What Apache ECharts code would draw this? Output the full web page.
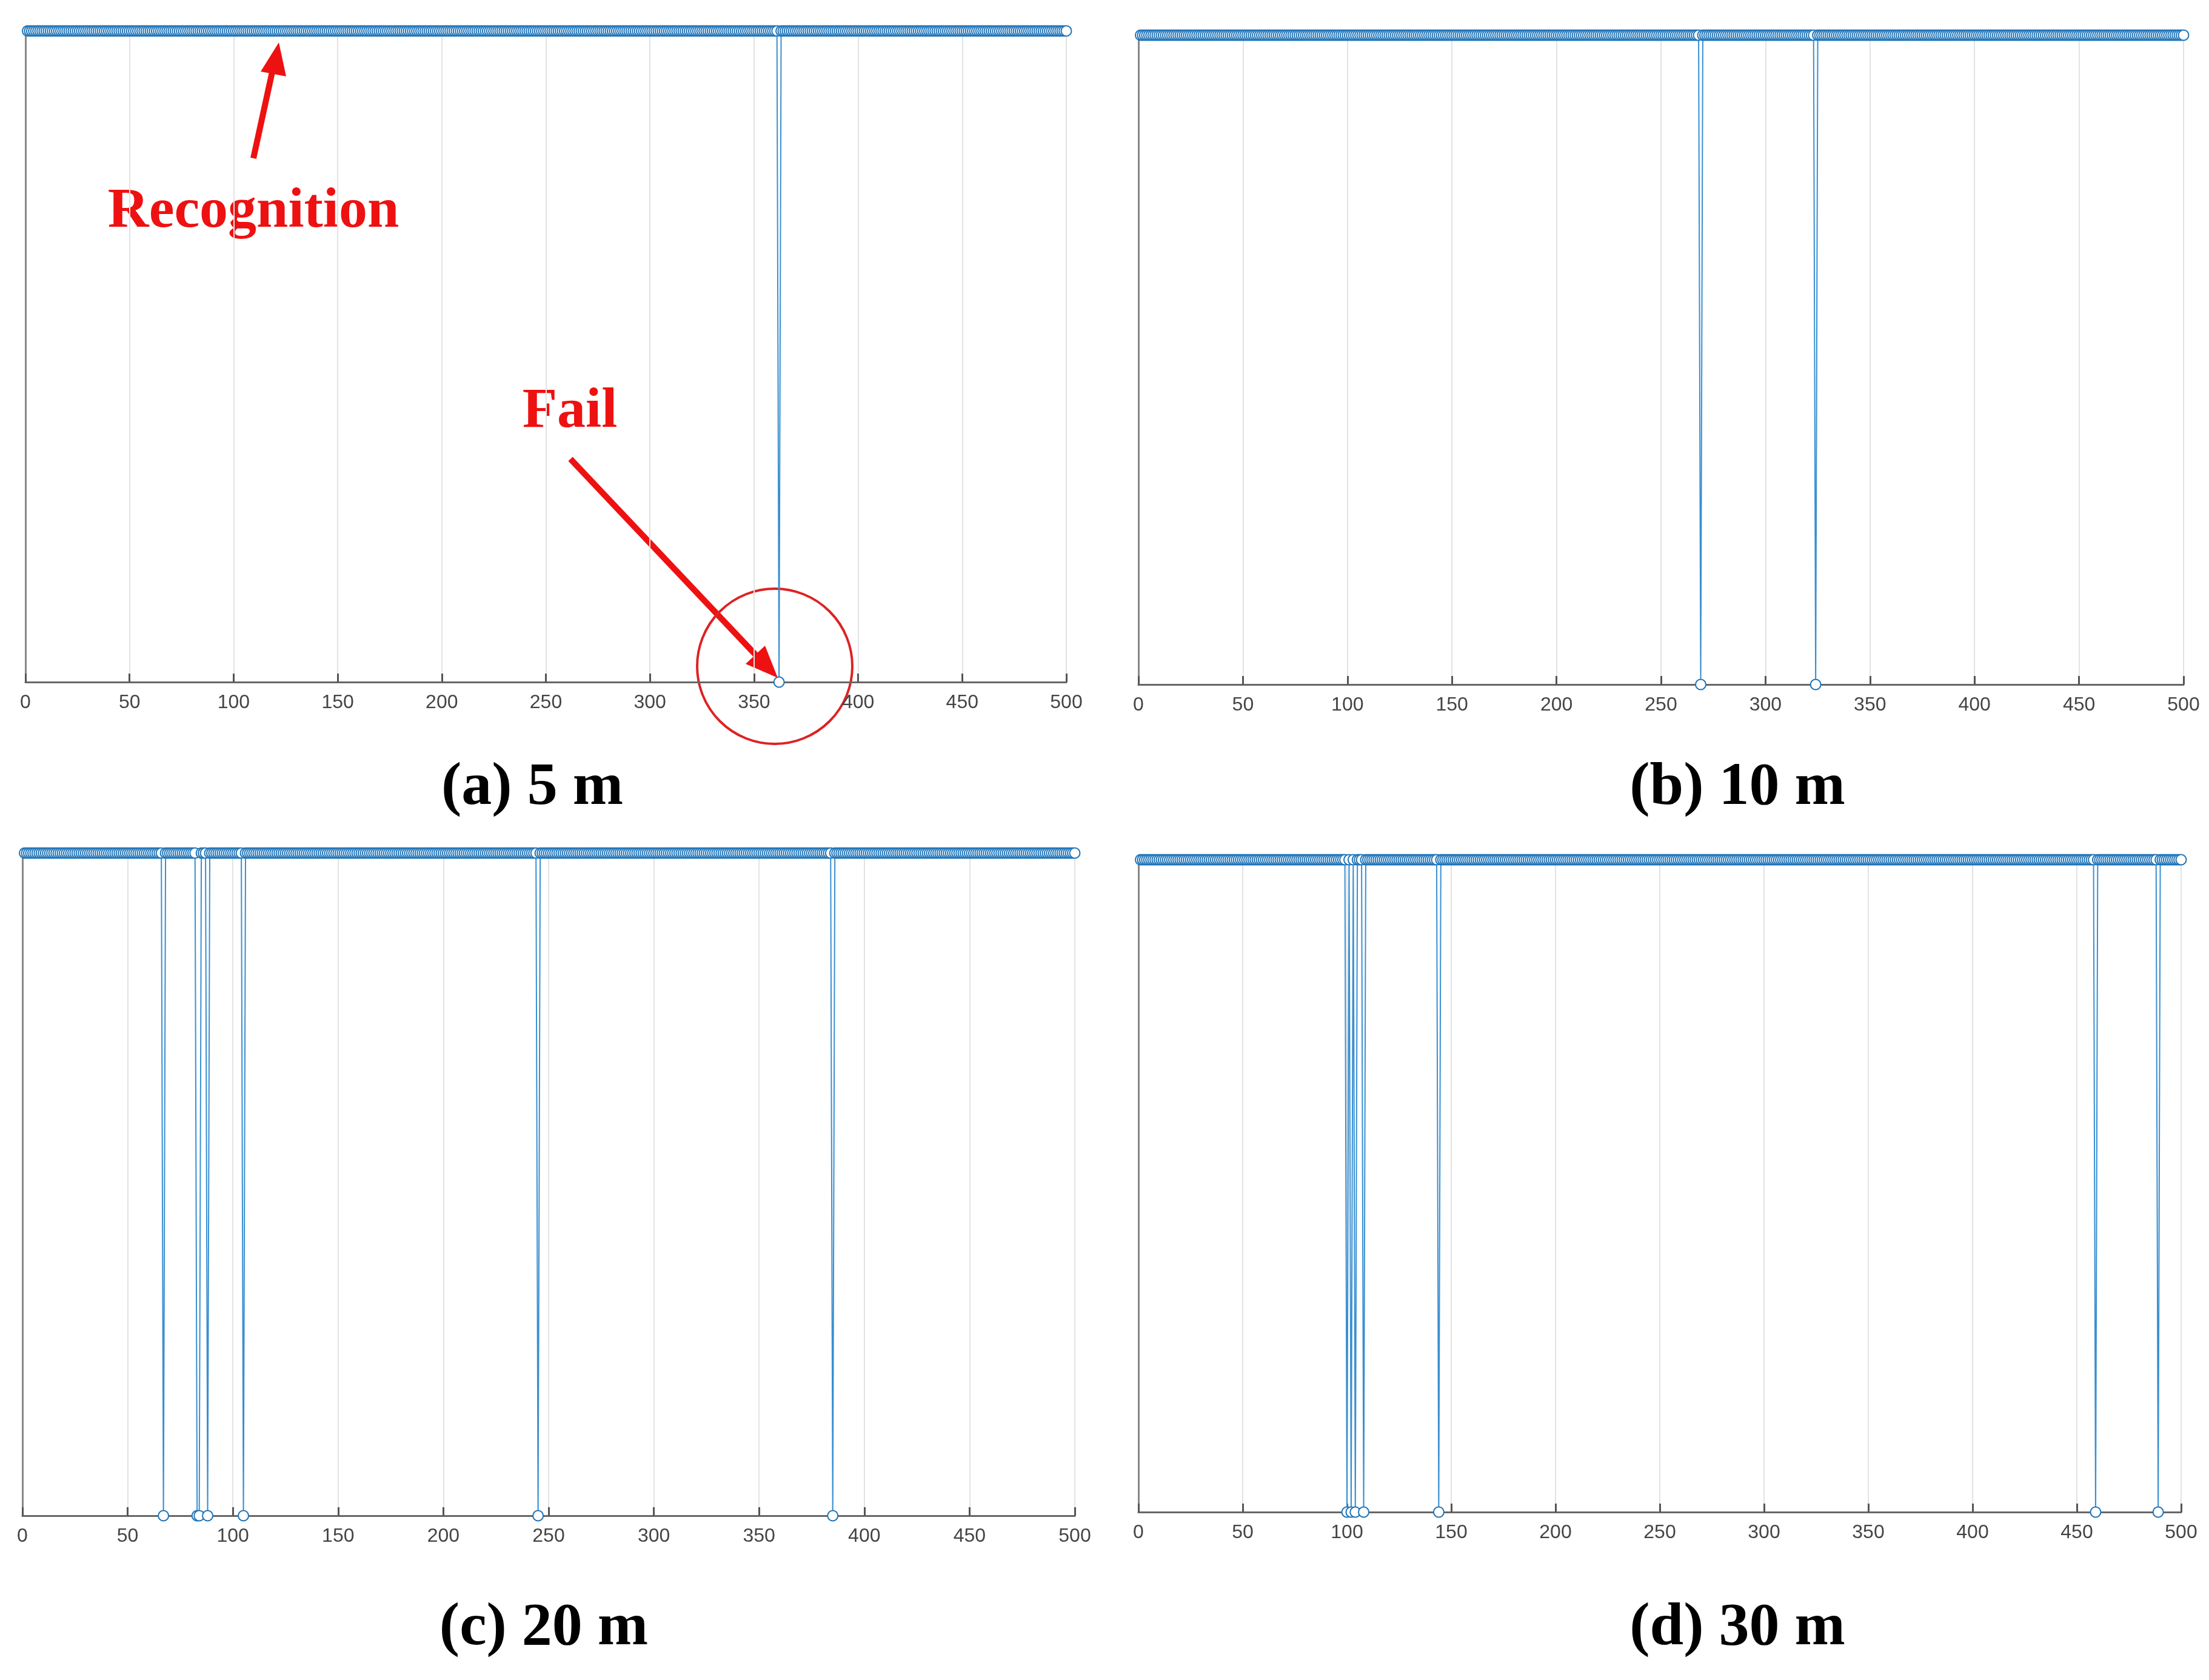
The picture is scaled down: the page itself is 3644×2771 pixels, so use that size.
<!DOCTYPE html>
<html>
<head>
<meta charset="UTF-8">
<script src="https://cdn.jsdelivr.net/npm/echarts@6/dist/echarts.min.js"></script>
<style>html,body{margin:0;background:#fff}</style>
</head>
<body>
<div id="main" style="width:3644px;height:2771px;"></div>
<script>
// failure frame indices
var fail5 = [362];
var fail10 = [269, 324];
var fail20 = [67, 83, 84, 88, 105, 245, 385];
var fail30 = [100, 102, 104, 108, 144, 459, 489];
var captions = ['(a) 5 m', '(b) 10 m', '(c) 20 m', '(d) 30 m'];
var xTicks = [0, 50, 100, 150, 200, 250, 300, 350, 400, 450, 500];
var frameCount = 500;

function series01(fails) {
    var d = [];
    for (var i = 1; i <= frameCount; i++) d.push([i, fails.indexOf(i) >= 0 ? 0 : 1]);
    return d;
}

var grids = [
    {left: 42, top: 51, width: 1717, height: 1074},
    {left: 1878, top: 58, width: 1724, height: 1071},
    {left: 37, top: 1407, width: 1736, height: 1093},
    {left: 1878, top: 1418, width: 1720, height: 1076}
];
var allFails = [fail5, fail10, fail20, fail30];
var capPos = [[878, 1300], [2866, 1300], [897, 2686], [2866, 2686]];

var myChart = echarts.init(document.getElementById('main'));
var option = {
    backgroundColor: '#fff',
    animation: false,
    grid: grids.map(function (g) {
        return Object.assign({show: true, borderColor: '#888', borderWidth: 2, backgroundColor: '#fff'}, g);
    }),
    xAxis: grids.map(function (g, k) {
        return {
            type: 'value', gridIndex: k, min: 0, max: 500, interval: 50,
            axisLine: {lineStyle: {color: '#666', width: 3}},
            axisTick: {inside: true, length: 14, lineStyle: {color: '#555', width: 3}},
            axisLabel: {color: '#444', fontSize: 32, fontFamily: 'Liberation Sans', margin: 18},
            splitLine: {show: true, lineStyle: {color: '#e3e3e3', width: 2}}
        };
    }),
    yAxis: grids.map(function (g, k) {
        return {
            type: 'value', gridIndex: k, min: 0, max: 1,
            axisLine: {show: true, lineStyle: {color: '#888', width: 3}},
            axisTick: {show: false}, axisLabel: {show: false}, splitLine: {show: false}
        };
    }),
    series: allFails.map(function (f, k) {
        return {
            type: 'line', xAxisIndex: k, yAxisIndex: k, data: series01(f),
            symbol: 'emptyCircle', symbolSize: 17,
            lineStyle: {color: '#3a8fd0', width: 2},
            itemStyle: {color: '#1f74b8', borderWidth: 3}
        };
    }),
    graphic: capPos.map(function (p, k) {
        return {
            type: 'text', x: p[0], y: p[1],
            style: {text: captions[k], font: 'bold 100px "Liberation Serif"', fill: '#000',
                align: 'center', verticalAlign: 'middle'}
        };
    }).concat([
        {type: 'text', x: 418, y: 350, style: {text: 'Recognition', font: 'bold 94px "Liberation Serif"',
            fill: '#ee1111', align: 'center', verticalAlign: 'middle'}},
        {type: 'line', shape: {x1: 418, y1: 261, x2: 452, y2: 105}, style: {stroke: '#ee1111', lineWidth: 10}},
        {type: 'polygon', shape: {points: [[460, 70], [430, 118], [472, 126]]}, style: {fill: '#ee1111'}},
        {type: 'text', x: 940, y: 680, style: {text: 'Fail', font: 'bold 94px "Liberation Serif"',
            fill: '#ee1111', align: 'center', verticalAlign: 'middle'}},
        {type: 'line', shape: {x1: 941, y1: 757, x2: 1255, y2: 1089}, style: {stroke: '#ee1111', lineWidth: 10}},
        {type: 'polygon', shape: {points: [[1283, 1118], [1230, 1095], [1262, 1065]]}, style: {fill: '#ee1111'}},
        {type: 'circle', shape: {cx: 1278, cy: 1099, r: 128}, style: {fill: 'none', stroke: '#dd2222', lineWidth: 4}}
    ])
};
myChart.setOption(option);
</script>
</body>
</html>
